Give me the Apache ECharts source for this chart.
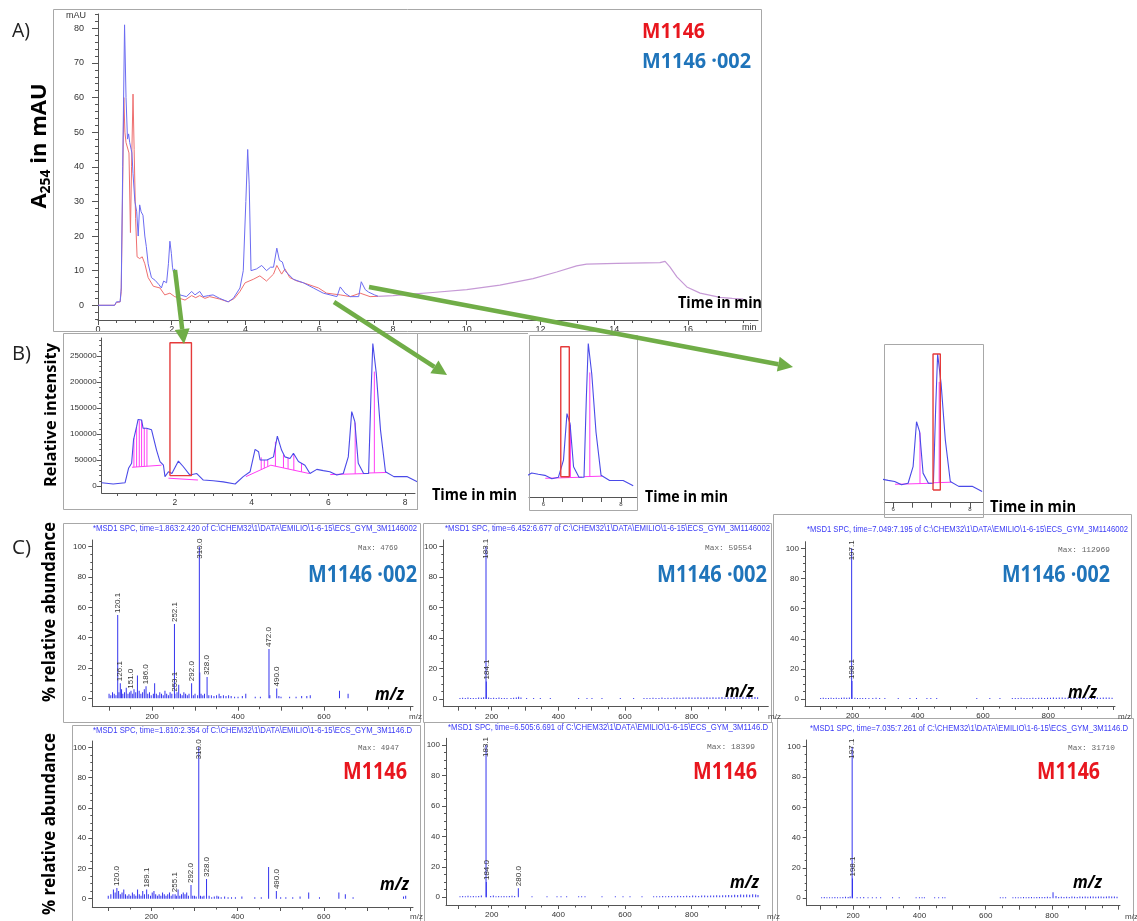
<!DOCTYPE html>
<html><head><meta charset="utf-8">
<script src="https://cdn.jsdelivr.net/npm/echarts/dist/echarts.min.js"></script>
<style>html,body{margin:0;padding:0;background:#fff}#c{width:1137px;height:921px}</style>
</head><body><div id="c"></div>
<script>
// ---------- tick labels ----------
const aTimeTicks = [0,2,4,6,8,10,12,14,16];
const aAbsTicks = [0,10,20,30,40,50,60,70,80];
const bTimeTicks = [2,4,6,8];
const bIntTicks = [0,50000,100000,150000,200000,250000];
const insetTimeTicks = [6,8];
const mzTicksWide = [200,400,600,800];
const mzTicksNarrow = [200,400,600];
const abTicks = [0,20,40,60,80,100];

// ---------- Panel A: UV chromatograms (time min, mAU) ----------
const aBlue = [[0,0],[0.45,0],[0.5,1],[0.55,0.7],[0.6,1],[0.63,5],[0.67,40],[0.72,81],[0.76,60],[0.8,48],[0.83,49.5],[0.86,47],[0.9,45],[0.92,44],[0.95,38],[1.0,30],[1.05,27],[1.09,20],[1.13,29],[1.17,27],[1.22,26],[1.27,20],[1.31,17],[1.36,12],[1.45,8],[1.55,7.2],[1.65,6],[1.72,5],[1.78,7],[1.86,6.5],[1.91,12],[1.95,18.5],[1.99,15],[2.02,11],[2.05,9.5],[2.08,10.5],[2.13,5],[2.22,3],[2.4,2.5],[2.54,4],[2.63,3],[2.76,4],[2.85,2.5],[3.0,2.8],[3.12,3],[3.3,2],[3.53,1],[3.67,2],[3.85,5],[3.94,10],[4.01,30],[4.06,45],[4.1,35],[4.15,10],[4.3,10.5],[4.44,11.5],[4.57,10],[4.68,11],[4.76,11],[4.85,16.5],[4.92,13],[5.0,12.5],[5.07,10],[5.3,7.5],[5.57,6.5],[5.6,7],[5.84,5],[6.11,3.5],[6.48,2.5],[6.57,5.3],[6.7,3.5],[6.84,2.5],[7.07,2.5],[7.14,6.8],[7.25,4.5],[7.34,3.8],[7.5,3],[7.6,2.6]];
const aRed = [[0,0],[0.45,0],[0.5,0.8],[0.6,1],[0.63,4],[0.67,35],[0.7,60],[0.73,50],[0.76,47],[0.8,47],[0.84,44],[0.88,21],[0.91,40],[0.95,61],[0.98,45],[1.02,25],[1.06,14],[1.13,13.5],[1.2,14],[1.27,12],[1.36,8],[1.5,5.5],[1.68,5],[1.81,3],[1.95,3.5],[2.08,2.5],[2.36,1.5],[2.54,2.8],[2.65,2.2],[2.76,2.8],[2.9,2],[3.03,2.5],[3.3,1.8],[3.53,1],[3.7,2],[3.85,4],[3.99,6.5],[4.21,7.5],[4.39,8.5],[4.57,7],[4.76,9],[4.85,11.5],[4.98,9],[5.07,10.5],[5.2,8],[5.4,7],[5.57,6.5],[5.6,7],[5.98,5],[6.2,3.5],[6.57,3],[6.84,2.5],[7.11,3.5],[7.38,2.5],[7.6,2.6]];
const aTail = [[7.6,2.6],[8.0,2.8],[8.5,3.2],[9.08,3.7],[10,4.5],[10.9,5.8],[11.8,7.7],[12.44,9.6],[12.98,11.4],[13.25,11.9],[14.07,12.1],[15.24,12.3],[15.38,12.7],[15.51,11.1],[15.7,8.2],[15.97,5.3],[16.33,3.5],[16.87,2.3],[17.2,2.0],[17.5,1.8]];

// ---------- Panel B: TIC (time min, relative intensity) ----------
const bTrace = [[0.09,6400],[0.39,3800],[0.7,6400],[0.79,34000],[0.87,43600],[0.92,88500],[1.0,114000],[1.04,128000],[1.13,127000],[1.17,111000],[1.26,111000],[1.3,114000],[1.39,108000],[1.52,69000],[1.61,47000],[1.7,40000],[1.74,18000],[1.83,27500],[1.92,24000],[2.09,48000],[2.22,37000],[2.39,21000],[2.57,24000],[2.74,11500],[3.0,10000],[3.26,8000],[3.57,3800],[3.78,18000],[3.96,27500],[4.09,70500],[4.18,66000],[4.22,50000],[4.4,50000],[4.57,56000],[4.67,96000],[4.78,69000],[4.87,56000],[5.0,53000],[5.09,63000],[5.22,47000],[5.39,40000],[5.52,24000],[5.7,32000],[5.87,29500],[6.04,27500],[6.22,21000],[6.39,24000],[6.52,56000],[6.61,143000],[6.69,124000],[6.78,43600],[6.92,24000],[7.05,24000],[7.11,172000],[7.16,274000],[7.25,217000],[7.36,108000],[7.49,27500],[7.71,18000],[8.06,18000],[8.32,8000]];
const bBaselines = [
  [[0.88,36000],[1.65,40000]],
  [[1.83,15000],[2.6,11500]],
  [[3.85,18000],[4.5,40000],[5.5,24000]],
  [[6.05,22000],[7.0,24000]],
  [[7.05,25000],[7.52,26000]]
];
const bDropT  = [0.93,1.0,1.07,1.13,1.2,1.27,4.25,4.33,4.42,4.62,4.83,4.95,5.1,5.3,6.7,7.2];
const bDropLo = [36300,36600,37000,37300,37700,38000,31500,34200,37300,38100,34700,32800,30400,27200,23400,25300];
const bDropHi = [92000,114000,126000,127000,112000,111000,55000,50000,50000,85000,60000,54000,60000,44000,122000,220000];
const bBoxMain  = [1.87,2.43,19900,275600];
const bBoxMid   = [6.45,6.67,25000,268000];
const bBoxRight = [7.04,7.23,11000,274000];

// ---------- Panel C: mass spectra [m/z, % abundance] ----------
const s1 = [[100,3],[104,2],[108,4],[112,3],[116,2],[120.1,55],[123,4],[126.1,10],[129,6],[132,3],[136,4],[140,7],[144,3],[148,4],[151,5],[155,3],[158,6],[162,4],[166,15],[170,5],[174,3],[178,4],[182,6],[186,8],[190,3],[194,4],[198,2],[203,3],[206,10],[210,3],[214,2],[218,4],[222,3],[226,2],[230,5],[234,3],[238,2],[242,4],[246,3],[252.1,49],[253.1,3],[258,4],[262,9],[266,3],[270,2],[274,4],[278,3],[282,2],[286,3],[292,10],[296,2],[300,3],[306,2],[310,100],[311,17],[314,3],[318,2],[322,3],[328,14],[332,2],[338,2],[344,1.5],[350,2],[356,3],[360,1.5],[366,2],[372,1.5],[378,2],[384,1.5],[392,1],[400,1],[410,1.5],[418,3],[440,1],[452,1],[472,32.5],[474,2],[490,6.5],[495,1.5],[500,1],[520,1],[535,1],[548,1.5],[560,1.5],[568,2],[636,5],[656,3]];
const s1Lab = [120.1,126.1,151,186,252.1,253.1,292,310,328,472,490];
const s2 = [[105,.6],[113,.8],[121,.5],[129,.9],[137,.6],[145,.7],[153,.5],[161,1],[169,.8],[176,1.2],[183.1,100],[184.1,11.5],[191,.9],[198,.7],[206,.8],[214,.6],[222,.9],[230,.5],[238,.7],[246,.6],[258,.5],[266,.8],[274,1],[281,1.5],[288,.9],[305,.5],[326,.6],[346,.5],[376,.6],[461,.5],[486,.6],[501,.5],[531,.4],[586,.5],[626,.5],[657,.6],[666,.7],[675,.5],[684,.8],[693,.6],[702,.7],[711,.9],[720,.6],[729,.8],[738,.7],[747,.9],[756,1],[765,.8],[774,1],[783,.9],[792,1.1],[801,.9],[810,1],[819,1.2],[828,.9],[837,1],[846,1.1],[855,.9],[864,1.2],[873,1],[882,1.1],[891,1.3],[900,1],[909,1.2],[918,1.1],[927,1.3],[936,1.1],[945,1.2],[954,1.4],[963,1.1],[972,1.3],[981,1.2],[990,1.3],[998,1.1]];
const s2Lab = [183.1,184.1];
const s3 = [[102,.6],[110,.8],[118,.6],[126,.7],[134,.9],[142,.6],[150,.8],[158,.7],[166,.9],[174,1],[182,.8],[190,1.1],[197.1,100],[198.1,12],[207,.8],[215,.6],[223,.7],[231,.5],[240,.6],[250,.7],[262,.5],[272,.8],[283,.6],[299,.5],[340,.6],[376,.5],[396,.6],[428,.5],[440,.6],[458,.5],[581,.4],[621,.5],[652,.5],[690,.6],[699,.7],[708,.5],[717,.8],[726,.6],[735,.7],[744,.6],[753,.8],[762,.7],[771,.9],[780,.8],[789,.7],[798,.9],[807,.8],[816,1],[825,.9],[834,1.1],[843,1],[852,.9],[861,1],[870,1.1],[879,1],[888,.9],[897,1],[906,1.1],[915,1],[924,.9],[933,1],[942,1.1],[951,1],[960,.9],[969,1],[978,1.1],[987,1],[996,.9]];
const s3Lab = [197.1,198.1];
const s4 = [[100,2],[106,3],[112,6],[116,4],[120,7],[124,5],[128,3],[132,4],[136,6],[140,3],[144,2],[148,3],[152,2],[156,4],[160,3],[164,2],[168,6],[172,3],[176,2],[180,5],[184,3],[189.1,6],[193,3],[198,2],[202,4],[206,5],[210,3],[214,2],[218,3],[222,2],[226,4],[230,3],[234,2],[238,3],[242,4],[246,2],[250,3],[255.1,3],[258,2],[262,6],[266,2],[270,3],[274,4],[278,3],[282,4],[286,2],[292,9],[296,2],[300,2],[304,1.5],[310,100],[314,2],[318,1.5],[322,2],[328,13],[334,2],[340,1],[346,1.5],[352,2],[356,1.5],[362,1],[370,1.5],[378,1],[386,1],[395,1],[410,1.5],[440,1],[455,1],[472,21],[490,5],[500,1],[512,1],[528,1],[545,1.5],[565,4],[590,1],[635,4],[650,3],[668,1],[785,1.5],[790,2]];
const s4Lab = [120,189.1,255.1,292,310,328,490];
const s5 = [[105,.7],[113,.9],[121,.6],[129,1],[137,.7],[145,.8],[153,.6],[161,.9],[169,1.1],[183.1,100],[184,10],[197,.8],[205,1.2],[213,.7],[221,.9],[229,.6],[237,.8],[245,.7],[253,.9],[261,1],[269,.8],[280,6],[321,.6],[366,.5],[396,.6],[408,.5],[425,.6],[461,.5],[470,.6],[480,.5],[531,.5],[571,.6],[594,.5],[615,.5],[651,.6],[686,.6],[695,.7],[704,.5],[713,.8],[722,.7],[731,.9],[740,.8],[749,.7],[758,1],[767,.8],[776,.9],[785,1],[794,.9],[803,1.1],[812,1],[821,.9],[830,1.2],[839,1.1],[848,1],[857,1.2],[866,1.1],[875,1.3],[884,1.2],[893,1.4],[902,1.3],[911,1.5],[920,1.4],[929,1.6],[938,1.5],[947,1.8],[956,1.6],[965,1.9],[974,1.7],[983,2],[992,1.8],[999,1.5]];
const s5Lab = [183.1,184,280];
const s6 = [[105,.6],[113,.8],[121,.5],[129,.7],[137,.6],[145,.9],[153,.6],[161,.7],[169,.8],[177,1],[185,.8],[191,1.1],[197.1,100],[198.1,13],[212,.7],[222,.6],[232,.8],[245,.6],[258,.7],[270,.5],[283,.6],[319,.5],[339,.5],[390,.6],[400,.5],[408,.6],[415,.5],[446,.5],[458,.6],[470,.7],[477,.5],[644,.5],[652,.6],[660,.5],[682,.6],[690,.5],[698,.7],[706,.6],[714,.8],[722,.7],[730,.9],[738,.8],[746,.7],[754,.9],[762,.8],[770,.9],[778,.8],[786,1],[794,.9],[803,4],[812,1.5],[820,.9],[828,1],[836,.8],[844,1],[852,.9],[860,1.1],[868,1],[876,.9],[884,1.1],[892,1],[900,1.2],[908,1],[916,1.1],[924,1.2],[932,1],[940,1.1],[948,1.2],[956,1],[964,1.1],[972,1.3],[980,1.1],[988,1.2],[996,1]];
const s6Lab = [197.1,198.1];

// ---------- helpers ----------
const TF = '"Liberation Sans", Arial, sans-serif';
const OS = '"Open Sans", sans-serif';
const AX = '#555', LBL = '#333';
const grids = [], xAxis = [], yAxis = [], series = [], gfx = [];
function steps(a, b, s) { const r = []; for (let v = a; v <= b + 1e-9; v += s) r.push(+v.toFixed(6)); return r; }
function mainAxis(gi, r, o, pos) {
  return {type:'value', gridIndex:gi, position:pos, min:r[0], max:r[1], show:o.show !== false,
    axisLine:{show:true, onZero:false, lineStyle:{color:AX, width:1}},
    axisTick:{show:!!o.majors, customValues:o.majors || [], length:o.tickLen || 4, lineStyle:{color:AX, width:1}},
    axisLabel:{show:!!o.labels, customValues:o.labels || [], formatter:v => String(v), fontSize:o.fs || 8, color:LBL, fontFamily:TF, margin:o.margin || 5},
    splitLine:{show:false}, splitArea:{show:false}};
}
function minorAxis(gi, r, o, pos) {
  return {type:'value', gridIndex:gi, position:pos, min:r[0], max:r[1],
    axisLine:{show:false, onZero:false}, axisTick:{show:true, customValues:o.minors, length:o.minorLen || 2, lineStyle:{color:AX, width:1}},
    axisLabel:{show:false}, splitLine:{show:false}};
}
function panel(b, xr, yr, xo, yo) {
  const gi = grids.length;
  grids.push({left:b[0], top:b[1], width:b[2], height:b[3], show:false, containLabel:false});
  const xi = xAxis.length; xAxis.push(mainAxis(gi, xr, xo, 'bottom'));
  if (xo.minors) xAxis.push(minorAxis(gi, xr, xo, 'bottom'));
  const yi = yAxis.length; yAxis.push(mainAxis(gi, yr, yo, 'left'));
  if (yo.minors) yAxis.push(minorAxis(gi, yr, yo, 'left'));
  return {xi, yi};
}
function line(p, data, color, w, z) {
  return {type:'line', xAxisIndex:p.xi, yAxisIndex:p.yi, data, symbol:'none', showSymbol:false,
    lineStyle:{color, width:w || 1}, itemStyle:{color}, animation:false, silent:true, z:z || 3};
}
function boxData(b) { return [[b[0],b[2]],[b[1],b[2]],[b[1],b[3]],[b[0],b[3]],[b[0],b[2]]]; }
const _cv = document.createElement('canvas').getContext('2d');
function tw(text, size, weight, family, fstyle) { _cv.font = `${fstyle || 'normal'} ${weight || 'normal'} ${size}px ${family}`; return _cv.measureText(text).width; }
function txt(x, y, text, o) {
  const fam = o.family || OS;
  const sx = o.w ? o.w / tw(text, o.size, o.weight, fam, o.fstyle) : 1;
  return {type:'text', x, y, rotation:o.rot || 0, scaleX:sx, z:100,
    style:{text, fill:o.color || '#000', fontSize:o.size, fontWeight:o.weight || 'normal', fontStyle:o.fstyle || 'normal',
      fontFamily:fam, align:o.align || 'left', verticalAlign:o.va || 'middle', textAlign:o.align || 'left', textVerticalAlign:o.va || 'middle'}};
}
function arrow(x1, y1, x2, y2) {
  const a = Math.atan2(y2 - y1, x2 - x1), L = 15, W = 7.5;
  const bx = x2 - L * Math.cos(a), by = y2 - L * Math.sin(a);
  gfx.push({type:'line', z:90, shape:{x1, y1, x2:bx, y2:by}, style:{stroke:'#70ad47', lineWidth:4.5}});
  gfx.push({type:'polygon', z:90, shape:{points:[[x2, y2],[bx + W * Math.sin(a), by - W * Math.cos(a)],[bx - W * Math.sin(a), by + W * Math.cos(a)]]}, style:{fill:'#70ad47'}});
}
function frame(x, y, w, h) { gfx.push({type:'rect', z:1, shape:{x:x + 0.5, y:y + 0.5, width:w, height:h}, style:{fill:'none', stroke:'#a8a8a8', lineWidth:1}}); }

// ---------- Panel A ----------
const pA = panel([98,14,660,306], [0,17.9], [-4.25,84.13],
  {majors:aTimeTicks, labels:aTimeTicks, minors:steps(0,17.5,0.5), tickLen:5, minorLen:3, fs:9, margin:5},
  {majors:aAbsTicks, labels:aAbsTicks, minors:steps(-4,84,2), tickLen:6, minorLen:3, fs:9, margin:14});
series.push(line(pA, aRed, '#ef6f6f', 1), line(pA, aBlue, '#6c6cf2', 1), line(pA, aTail, '#c69ad6', 1.2));

// ---------- Panel B ----------
const PINK = '#ff3df5', TRACE = '#4a4ae8', RED = '#e53a3a';
function bSeries(p) {
  series.push(line(p, bTrace, TRACE, 1.1, 4));
  bBaselines.forEach(s => series.push(line(p, s, PINK, 1, 3)));
  bDropT.forEach((t, i) => series.push(line(p, [[t, bDropLo[i]], [t, bDropHi[i]]], PINK, 1, 3)));
}
const pB = panel([101.7,338,313.3,155], [0.09,8.26], [-13460,284600],
  {majors:steps(0.5,8,0.5), labels:bTimeTicks, tickLen:3, fs:8.5, margin:5},
  {majors:bIntTicks, labels:bIntTicks, minors:steps(0,280000,10000), tickLen:5, minorLen:2.5, fs:8, margin:5});
bSeries(pB); series.push(line(pB, boxData(bBoxMain), RED, 1.4, 6));
const pM = panel([529,335,107.7,162], [5.63,8.41], [-13000,290000],
  {majors:[6,6.5,7,7.5,8], labels:insetTimeTicks, tickLen:5, fs:6, margin:4}, {show:false});
bSeries(pM); series.push(line(pM, boxData(bBoxMid), RED, 1.4, 6));
const pR = panel([884.3,344,99,158.7], [5.77,8.35], [-13600,293300],
  {majors:[6,6.5,7,7.5,8], labels:insetTimeTicks, tickLen:5, fs:6, margin:4}, {show:false});
bSeries(pR); series.push(line(pR, boxData(bBoxRight), RED, 1.4, 6));

// ---------- Panel C spectra ----------
const specs = [
  {d:s1, lab:s1Lab, box:[92.3,540,320.7,166.7], x:[61,807], y:[-5.5,104.4], xl:mzTicksNarrow},
  {d:s2, lab:s2Lab, box:[443.3,540,325,166.7], x:[55,1030], y:[-5.06,104.4], xl:mzTicksWide},
  {d:s3, lab:s3Lab, box:[805,541.7,310,164.3], x:[54,1005], y:[-4.6,104.4], xl:mzTicksWide},
  {d:s4, lab:s4Lab, box:[92.3,741,320.7,166.3], x:[63,807], y:[-5.5,104.2], xl:mzTicksNarrow},
  {d:s5, lab:s5Lab, box:[446,738.3,314,166.7], x:[63,1005], y:[-5.06,104.4], xl:mzTicksWide},
  {d:s6, lab:s6Lab, box:[806.7,740,313.3,165.7], x:[60,1005], y:[-4.9,104.4], xl:mzTicksWide}
];
specs.forEach(sp => {
  const p = panel(sp.box, sp.x, sp.y,
    {majors:steps(100,1000,100).filter(v => v <= sp.x[1]), labels:sp.xl, minors:steps(50,1000,100).filter(v => v > sp.x[0] && v <= sp.x[1]), tickLen:4, minorLen:2.5, fs:8, margin:6},
    {majors:abTicks, labels:abTicks, minors:steps(0,100,5), tickLen:4, minorLen:2, fs:8, margin:6});
  const data = sp.d.map(([mz, ab]) => {
    const it = {value:[mz, ab]};
    if (sp.lab.includes(mz)) it.label = Object.assign({show:true, formatter:mz.toFixed(1)}, ab > 90 ? {align:'center', distance:-2} : {});
    return it;
  });
  series.push({type:'bar', xAxisIndex:p.xi, yAxisIndex:p.yi, data, barWidth:1, barMinHeight:1,
    itemStyle:{color:'#3434ee'}, animation:false, silent:true,
    label:{show:false, position:'top', rotate:90, align:'left', verticalAlign:'middle', distance:2, fontSize:8, color:'#333', fontFamily:TF}});
});

// ---------- frames ----------
frame(53,9,708,322); frame(63,333,354,176);
gfx.push({type:'polyline', z:1, shape:{points:[[417.5,510],[417.5,333.5],[528,333.5]]}, style:{fill:'none', stroke:'#a8a8a8', lineWidth:1}});
frame(529,335,108,175); frame(884,344,99,173);
frame(63,523,357,199); frame(423,523,348,199); frame(773,514,358,204);
frame(72,725,348,200); frame(424,722,348,200); frame(777,718,356,205);

// ---------- arrows ----------
arrow(175,270,184,344); arrow(334,302,447,375); arrow(369,287,793,367);

// ---------- texts ----------
const BLUE = '#1f74ba', REDT = '#e8161e';
gfx.push(txt(12,31,'A)',{size:20, w:18, color:'#222'}));
gfx.push(txt(12,354,'B)',{size:20, w:19, color:'#222'}));
gfx.push(txt(12,548,'C)',{size:20, w:19, color:'#222'}));
gfx.push({type:'text', x:40, y:146, rotation:Math.PI/2, z:100, style:{
  text:'{a|A}{s|254}{a| in mAU}', align:'center', verticalAlign:'middle', textAlign:'center', textVerticalAlign:'middle',
  rich:{a:{fontSize:22, fontWeight:'bold', fontFamily:OS, fill:'#000', lineHeight:26, verticalAlign:'middle'},
        s:{fontSize:14, fontWeight:'bold', fontFamily:OS, fill:'#000', lineHeight:14, verticalAlign:'bottom'}}}});
gfx.push(txt(51,415,'Relative intensity',{size:16, weight:'bold', rot:Math.PI/2, align:'center', w:144}));
gfx.push(txt(50,612,'% relative abundance',{size:17, weight:'bold', rot:Math.PI/2, align:'center', w:180}));
gfx.push(txt(50,824,'% relative abundance',{size:17, weight:'bold', rot:Math.PI/2, align:'center', w:182}));
gfx.push(txt(86,16,'mAU',{size:9, family:TF, color:'#333', align:'right'}));
gfx.push(txt(742,328,'min',{size:9, family:TF, color:'#333'}));
gfx.push(txt(642,32,'M1146',{size:21, weight:'bold', color:REDT, w:63}));
gfx.push(txt(642,62,'M1146 \u00b7002',{size:21, weight:'bold', color:BLUE, w:109}));
gfx.push(txt(678,303,'Time in min',{size:16, weight:'bold', w:84}));
gfx.push(txt(432,495,'Time in min',{size:16, weight:'bold', w:85}));
gfx.push(txt(645,497,'Time in min',{size:16, weight:'bold', w:83}));
gfx.push(txt(990,507,'Time in min',{size:16, weight:'bold', w:86}));

const cText = [
  {tx:93, ty:529, tw:324, title:'*MSD1 SPC, time=1.863:2.420 of C:\\CHEM32\\1\\DATA\\EMILIO\\1-6-15\\ECS_GYM_3M1146002', lab:'M1146 \u00b7002', lc:BLUE, lx:417, ly:575, lw:109, max:'Max: 4769', mx:358, my:548, mw:40, zx:375, zy:695, ex:409, ey:717},
  {tx:445, ty:529, tw:325, title:'*MSD1 SPC, time=6.452:6.677 of C:\\CHEM32\\1\\DATA\\EMILIO\\1-6-15\\ECS_GYM_3M1146002', lab:'M1146 \u00b7002', lc:BLUE, lx:767, ly:575, lw:110, max:'Max: 59554', mx:705, my:548, mw:47, zx:725, zy:692, ex:768, ey:717},
  {tx:807, ty:530, tw:321, title:'*MSD1 SPC, time=7.049:7.195 of C:\\CHEM32\\1\\DATA\\EMILIO\\1-6-15\\ECS_GYM_3M1146002', lab:'M1146 \u00b7002', lc:BLUE, lx:1110, ly:575, lw:108, max:'Max: 112969', mx:1058, my:550, mw:52, zx:1068, zy:693, ex:1118, ey:717},
  {tx:93, ty:731, tw:319, title:'*MSD1 SPC, time=1.810:2.354 of C:\\CHEM32\\1\\DATA\\EMILIO\\1-6-15\\ECS_GYM_3M1146.D', lab:'M1146', lc:REDT, lx:407, ly:772, lw:64, max:'Max: 4947', mx:358, my:748, mw:41, zx:380, zy:885, ex:410, ey:917},
  {tx:448, ty:728, tw:320, title:'*MSD1 SPC, time=6.505:6.691 of C:\\CHEM32\\1\\DATA\\EMILIO\\1-6-15\\ECS_GYM_3M1146.D', lab:'M1146', lc:REDT, lx:757, ly:772, lw:64, max:'Max: 18399', mx:707, my:747, mw:48, zx:730, zy:883, ex:767, ey:917},
  {tx:810, ty:729, tw:318, title:'*MSD1 SPC, time=7.035:7.261 of C:\\CHEM32\\1\\DATA\\EMILIO\\1-6-15\\ECS_GYM_3M1146.D', lab:'M1146', lc:REDT, lx:1100, ly:772, lw:63, max:'Max: 31710', mx:1068, my:748, mw:47, zx:1073, zy:883, ex:1125, ey:917}
];
cText.forEach(c => {
  gfx.push(txt(c.tx, c.ty, c.title, {size:8.5, family:TF, color:'#3a3af5', w:c.tw}));
  gfx.push(txt(c.lx, c.ly, c.lab, {size:24, weight:'bold', color:c.lc, align:'right', w:c.lw}));
  gfx.push(txt(c.mx, c.my, c.max, {size:8, family:'"Liberation Mono", monospace', color:'#666', w:c.mw}));
  gfx.push(txt(c.zx, c.zy, 'm/z', {size:18, weight:'bold', fstyle:'italic', w:29}));
  gfx.push(txt(c.ex, c.ey, 'm/z', {size:8, family:TF, color:'#444'}));
});

const chart = echarts.init(document.getElementById('c'), null, {renderer:'canvas'});
chart.setOption({animation:false, backgroundColor:'#fff', grid:grids, xAxis, yAxis, series, graphic:{elements:gfx}});
</script></body></html>
